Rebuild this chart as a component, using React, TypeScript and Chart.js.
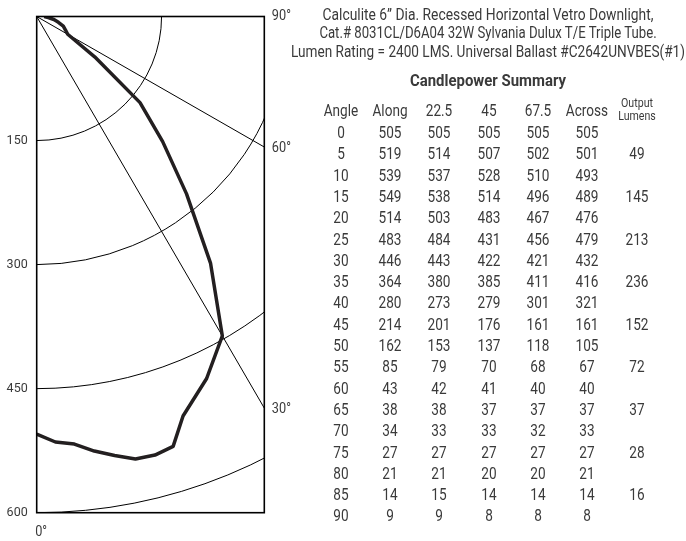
import React, { useEffect, useRef } from 'react';
import { Chart, registerables } from 'chart.js';

Chart.register(...registerables);

// ---- data ----
const angles = [0, 5, 10, 15, 20, 25, 30, 35, 40, 45, 50, 55, 60, 65, 70, 75, 80, 85, 90];
const along = [505, 519, 539, 549, 514, 483, 446, 364, 280, 214, 162, 85, 43, 38, 34, 27, 21, 14, 9];
const plane225 = [505, 514, 537, 538, 503, 484, 443, 380, 273, 201, 153, 79, 42, 38, 33, 27, 21, 15, 9];
const plane45 = [505, 507, 528, 514, 483, 431, 422, 385, 279, 176, 137, 70, 41, 37, 33, 27, 20, 14, 8];
const plane675 = [505, 502, 510, 496, 467, 456, 421, 411, 301, 161, 118, 68, 40, 37, 32, 27, 20, 14, 8];
const across = [505, 501, 493, 489, 476, 479, 432, 416, 321, 161, 105, 67, 40, 37, 33, 27, 21, 14, 8];
const outputLumens = ['', '49', '', '145', '', '213', '', '236', '', '152', '', '72', '', '37', '', '28', '', '16', ''];

// candlepower curve as plotted
const curveAngles = [0, 2.5, 5, 7.5, 10, 12.5, 15, 17.5, 20, 25, 30, 35, 40, 45, 50, 55, 60, 65, 70, 75, 80, 85, 90];
const curveValues = [505, 515, 519, 530, 539, 548, 549, 545, 514, 483, 446, 364, 280, 214, 162, 85, 43, 38, 34, 27, 21, 14, 9];

const radialTicks = [150, 300, 450, 600];
const rayAngles = [60, 30];
const edgeAngleLabels = [90, 60, 30];
const xMaxCd = 273.4;
const yMaxCd = 600;

const titleLines = [
  'Calculite 6\u201D Dia. Recessed Horizontal Vetro Downlight,',
  'Cat.# 8031CL/D6A04 32W Sylvania Dulux T/E Triple Tube.',
  'Lumen Rating = 2400 LMS. Universal Ballast #C2642UNVBES(#1)',
];
const titleWidths = [331, 338, 394];
const tableTitle = 'Candlepower Summary';
const headers = ['Angle', 'Along', '22.5', '45', '67.5', 'Across'];

const FONT = 'Roboto, "DejaVu Sans Condensed", sans-serif';
const TEXT = '#3a3a3a';
const NARROW = 0.85;

let mctx: CanvasRenderingContext2D | null = null;
function fit(text: string, font: string, target: number) {
  if (!mctx) mctx = document.createElement('canvas').getContext('2d');
  if (!mctx) return NARROW;
  mctx.font = font;
  const w = mctx.measureText(text).width;
  return w > 0 ? target / w : NARROW;
}

const polarGrid = {
  id: 'polarGrid',
  beforeDatasetsDraw(chart: any) {
    const { ctx, chartArea, scales } = chart;
    const x = scales.x, y = scales.y;
    const ox = x.getPixelForValue(0), oy = y.getPixelForValue(0);
    ctx.save();
    ctx.beginPath();
    ctx.rect(chartArea.left, chartArea.top, chartArea.right - chartArea.left, chartArea.bottom - chartArea.top);
    ctx.clip();
    ctx.strokeStyle = '#000';
    ctx.lineWidth = 1;
    radialTicks.forEach((r) => {
      const rx = x.getPixelForValue(r) - ox;
      const ry = y.getPixelForValue(r) - oy;
      ctx.beginPath();
      ctx.ellipse(ox, oy, rx, ry, 0, 0, Math.PI / 2);
      ctx.stroke();
    });
    rayAngles.forEach((a) => {
      const t = (a * Math.PI) / 180;
      const far = 3000;
      ctx.beginPath();
      ctx.moveTo(ox, oy);
      ctx.lineTo(x.getPixelForValue(far * Math.sin(t)), y.getPixelForValue(far * Math.cos(t)));
      ctx.stroke();
    });
    ctx.restore();
  },
  afterDatasetsDraw(chart: any) {
    const { ctx, chartArea, scales } = chart;
    const y = scales.y;
    ctx.save();
    ctx.strokeStyle = '#000';
    ctx.lineWidth = 1.6;
    ctx.strokeRect(chartArea.left, chartArea.top, chartArea.right - chartArea.left, chartArea.bottom - chartArea.top);
    ctx.fillStyle = TEXT;
    ctx.font = `15px ${FONT}`;
    ctx.textAlign = 'left';
    ctx.textBaseline = 'middle';
    const label = (s: string, px: number, py: number) => {
      ctx.save();
      ctx.translate(px, py);
      ctx.scale(NARROW, 1);
      ctx.fillText(s, 0, 0);
      ctx.restore();
    };
    edgeAngleLabels.forEach((a) => {
      const t = (a * Math.PI) / 180;
      const cd = a === 90 ? 0 : xMaxCd / Math.tan(t);
      const py = y.getPixelForValue(cd);
      label(`${a}\u00B0`, chartArea.right + 7.5, py + (a === 90 ? 0 : 1.5));
    });
    label('0\u00B0', chartArea.left - 1.5, chartArea.bottom + 20);
    ctx.restore();
  },
};

const colX = [341, 390, 439, 488.5, 538, 587, 637];
const headerY = 110.7;
const row0Y = 133;
const rowStep = 21.3;

function Txt({ x, y, text, size = 16, bold = false, w = 80, sx = NARROW }: any) {
  return (
    <div
      style={{
        position: 'absolute',
        left: x - w / 2,
        width: w,
        top: y - 10,
        height: 20,
        lineHeight: '20px',
        textAlign: 'center',
        fontSize: size,
        fontWeight: bold ? 700 : 400,
        fontFamily: FONT,
        color: TEXT,
        whiteSpace: 'nowrap',
        transform: `scaleX(${sx})`,
        transformOrigin: '50% 50%',
      }}
    >
      {text}
    </div>
  );
}

export default function App() {
  const ref = useRef<HTMLCanvasElement | null>(null);
  useEffect(() => {
    if (!ref.current) return;
    const pts = curveAngles.map((a, i) => {
      const t = (a * Math.PI) / 180;
      return { x: curveValues[i] * Math.sin(t), y: curveValues[i] * Math.cos(t) };
    });
    const chart = new Chart(ref.current, {
      type: 'scatter',
      data: {
        datasets: [
          {
            data: pts,
            showLine: true,
            borderColor: '#231f20',
            backgroundColor: '#231f20',
            borderWidth: 3.5,
            pointRadius: 0,
            tension: 0,
            borderJoinStyle: 'round',
          } as any,
        ],
      },
      options: {
        animation: false,
        responsive: false,
        maintainAspectRatio: false,
        layout: { padding: { left: 0, top: 12, right: 686 - 264.3, bottom: 541 - 512.7 } },
        plugins: { legend: { display: false }, tooltip: { enabled: false } },
        scales: {
          x: { type: 'linear', min: 0, max: xMaxCd, display: false },
          y: {
            type: 'linear',
            min: 0,
            max: yMaxCd,
            reverse: true,
            afterBuildTicks: (s: any) => {
              s.ticks = [0, ...radialTicks].map((v) => ({ value: v }));
            },
            ticks: {
              callback: (v: any) => (v === 0 ? '' : String(v)),
              font: { family: FONT, size: 12.5 },
              color: TEXT,
              padding: 9,
              autoSkip: false,
            },
            grid: { display: false, drawTicks: false },
            border: { display: false },
            afterFit: (s: any) => {
              s.width = 36.7;
            },
          },
        },
      } as any,
      plugins: [polarGrid],
    });
    return () => chart.destroy();
  }, []);

  return (
    <div style={{ position: 'fixed', left: 0, top: 0, width: 686, height: 541, background: '#fff', overflow: 'hidden' }}>
      <canvas ref={ref} width={686} height={541} style={{ position: 'absolute', left: 0, top: 0, width: 686, height: 541 }} />
      {titleLines.map((t, i) => (
        <Txt key={'t' + i} x={488} y={15 + i * 18.3} text={t} size={16} w={480} sx={fit(t, `16px ${FONT}`, titleWidths[i])} />
      ))}
      <Txt x={488} y={80} text={tableTitle} size={17} bold w={300} sx={fit(tableTitle, `bold 17px ${FONT}`, 156)} />
      {headers.map((h, i) => (
        <Txt key={'h' + i} x={colX[i]} y={headerY} text={h} />
      ))}
      <Txt x={colX[6]} y={103.3} text="Output" size={12.5} />
      <Txt x={colX[6]} y={116} text="Lumens" size={12.5} />
      {angles.map((a, r) => {
        const yy = row0Y + r * rowStep;
        const vals = [String(a), String(along[r]), String(plane225[r]), String(plane45[r]), String(plane675[r]), String(across[r]), outputLumens[r]];
        return vals.map((v, c) => <Txt key={`c${r}-${c}`} x={colX[c]} y={yy} text={v} />);
      })}
    </div>
  );
}
